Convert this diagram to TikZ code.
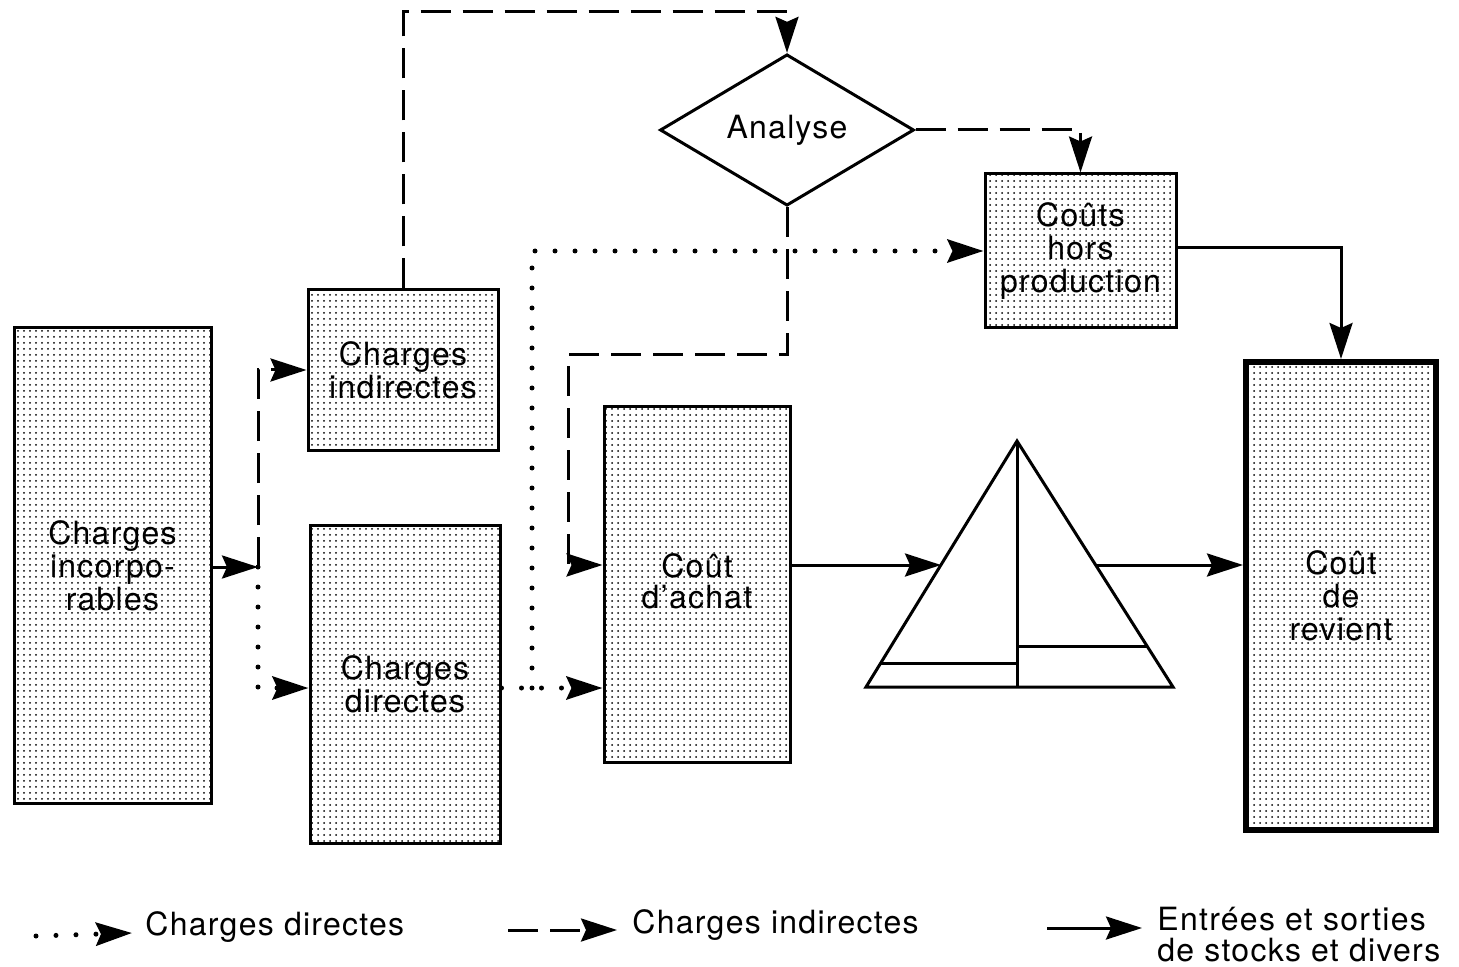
\documentclass[tikz,border=0pt]{standalone}
\usepackage{fontspec}
\setmainfont{TeX Gyre Heros}[LetterSpace=4]
\usetikzlibrary{arrows.meta,patterns,shapes.geometric}
\begin{document}
\begin{tikzpicture}[x=0.5pt,y=-0.5pt,
  txt/.style={font=\fontsize{16}{16.5}\selectfont},
  cbox/.style={draw,line width=1.5pt,pattern=dots,inner sep=0pt,align=center,txt},
  solidl/.style={line width=1.5pt},
  dashl/.style={line width=1.5pt,dash pattern=on 15pt off 6pt},
  dotl/.style={line width=2.5pt,line cap=round,dash pattern=on 0pt off 10pt},
  arr/.style={-{Stealth[length=18pt,width=11.5pt,inset=2.5pt]}}]
\useasboundingbox (0,0) rectangle (1459,967);

% boxes
\node[cbox,minimum width=98.5pt,minimum height=237.5pt] (inc) at (112.5,565.5) {Charges\\incorpo-\\rables};
\node[cbox,minimum width=95pt,minimum height=80pt] (ind) at (403,370) {Charges\\indirectes};
\node[cbox,minimum width=95pt,minimum height=159pt] (dir) at (405,684) {Charges\\directes};
\node[cbox,minimum width=93pt,minimum height=177.5pt] (ach) at (697,584.5) {\raisebox{3.5pt}{\shortstack{Coût\\[1pt]d'achat}}};
\node[cbox,minimum width=95.5pt,minimum height=77pt] (hors) at (1080.5,251) {Coûts\\hors\\production};
\node[cbox,line width=3pt,minimum width=95pt,minimum height=234pt] (rev) at (1341,596) {Coût\\de\\revient};
\node[draw,diamond,line width=1.5pt,minimum width=127pt,minimum height=74.5pt,inner sep=0pt,txt] (an) at (787,130) {Analyse};

% triangle
\coordinate (ta) at (1017,441);
\coordinate (tl) at (866,687);
\coordinate (tr) at (1173,687);
\coordinate (tb) at (1017,687);
\coordinate (triL) at (941,565);
\coordinate (triR) at (1096,565);
\draw[solidl,line join=miter] (tl) -- (ta) -- (tr) -- cycle;
\draw[solidl] (ta) -- (tb);
\draw[solidl] (881,663) -- (1017,663);
\draw[solidl] (1017,646) -- (1147,646);

% junctions
\coordinate (j1) at (258,567);
\coordinate (j2) at (532,688);

% connectors
\draw[solidl,arr] (inc.east |- j1) -- (j1);
\draw[dashl,arr] (j1) -- (j1 |- ind.west) -- (ind.west);
\draw[dotl,arr] (j1) -- (j1 |- 0,688) -- (dir.west |- 0,688);
\draw[dashl,arr] (ind.north) -- (ind.north |- 0,12) -- (an.north |- 0,12) -- (an.north);
\draw[dashl,arr] (an.east) -- (hors.north |- an.east) -- (hors.north);
\draw[dashl,arr] (an.south) -- (an.south |- 0,355) -- (568,355) -- (568,565) -- (ach.west |- 0,565);
\draw[dotl,arr] (dir.east |- j2) -- (ach.west |- j2);
\draw[dotl,arr] (j2) -- (j2 |- hors.west) -- (hors.west);
\draw[solidl,arr] (ach.east |- triL) -- (triL);
\draw[solidl,arr] (triR) -- (rev.west |- triR);
\draw[solidl,arr] (hors.east |- 0,248) -- (rev.north |- 0,248) -- (rev.north);

% legend
\node[txt,anchor=west,inner sep=0pt] (lt1) at (145,927) {Charges directes};
\node[txt,anchor=west,inner sep=0pt] (lt2) at (632,925) {Charges indirectes};
\node[font=\fontsize{16}{15.5}\selectfont,anchor=base west,inner sep=0pt,align=left] (lt3) at (1157,961) {Entrées et sorties\\de stocks et divers};
\coordinate (l1a) at (36,936);
\coordinate (l1b) at (132,933);
\coordinate (l2a) at (508,930);
\coordinate (l2b) at (617,930);
\coordinate (l3a) at (1047,928);
\coordinate (l3b) at (1142,928);
\draw[dotl,arr] (l1a) -- (l1b);
\draw[dashl,arr] (l2a) -- (l2b);
\draw[solidl,arr] (l3a) -- (l3b);
\end{tikzpicture}
\end{document}
